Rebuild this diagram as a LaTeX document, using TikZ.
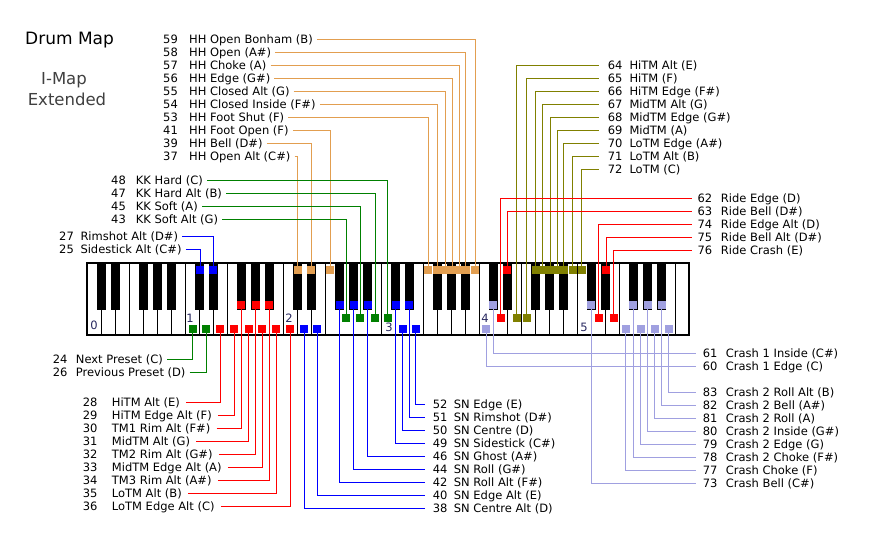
\documentclass[tikz,border=0pt]{standalone}
\usepackage{fontspec}
\setmainfont{DejaVu Sans}
\definecolor{hhcol}{RGB}{226,158,80}
\definecolor{tomcol}{RGB}{128,128,0}
\definecolor{ridecol}{RGB}{255,0,0}
\definecolor{sncol}{RGB}{0,0,255}
\definecolor{kkcol}{RGB}{0,128,0}
\definecolor{crashcol}{RGB}{160,160,224}
\definecolor{octcol}{RGB}{40,40,96}
\definecolor{subcol}{RGB}{64,64,64}
\newcommand{\lblfont}{\fontsize{11.5}{13}\selectfont}
\tikzset{
  mk/.style={minimum size=8pt, inner sep=0pt, outer sep=0pt},
  lbl/.style={anchor=west, inner sep=0pt, text height=8pt, text depth=0pt, font=\lblfont},
  octno/.style={inner sep=0pt, font=\lblfont, text=octcol},
  wire/.style={line width=1pt}
}
\begin{document}
\begin{tikzpicture}[x=1pt,y=-1pt]
\useasboundingbox (0,0) rectangle (892,538);
\fill[white] (0,0) rectangle (892,538);
% title
\node[anchor=base west, inner sep=0pt, font=\fontsize{17}{20}\selectfont] (title) at (25,44.3) {Drum Map};
\node[anchor=base, inner sep=0pt, font=\fontsize{16.5}{20}\selectfont, text=subcol] (imap) at (64,84.3) {I-Map};
\node[anchor=base, inner sep=0pt, font=\fontsize{16.5}{20}\selectfont, text=subcol] (ext) at (67,105.7) {Extended};
% keyboard
\foreach \i in {0,...,42}
  \draw[line width=1pt] (87+14*\i,263) rectangle ++(14,72);
\foreach \o in {0,...,5}
  \foreach \b in {9.5,23.5,51.5,65.5,79.5}
    \fill (87+98*\o+\b,263) rectangle ++(9.5,47);
\draw[line width=1.5pt] (87,263) rectangle (689,335);
\foreach \o/\x/\y in {0/94/325,1/190/318,2/289/318,3/389/327,4/485/318,5/584/327}
  \node[octno] (oct\o) at (\x,\y) {\o};
% hi-hat
\foreach \n/\txt/\y/\x in {59/HH Open Bonham (B)/39/475, 58/HH Open (A\#)/52/465.7,
    57/HH Choke (A)/65/459, 56/HH Edge (G\#)/78/452.3, 55/HH Closed Alt (G)/91/445,
    54/HH Closed Inside (F\#)/104/437.3, 53/HH Foot Shut (F)/117/428.3,
    41/HH Foot Open (F)/130/330.3, 39/HH Bell (D\#)/143/311.3, 37/HH Open Alt (C\#)/156/297.5}{
  \node[mk, fill=hhcol] (k\n) at (\x,270) {};
  \node[lbl] (n\n) at (163,\y) {\n};
  \node[lbl] (t\n) at (189,\y) {\txt};
  \draw[wire, hhcol, shorten <=4pt] (t\n.east) -| (k\n.north);
}
% toms
\foreach \n/\txt/\y/\x/\lv in {64/HiTM Alt (E)/65/516.7/317.5, 65/HiTM (F)/78/526.7/317.5,
    66/HiTM Edge (F\#)/91/535.7/270, 67/MidTM Alt (G)/104/542.7/270,
    68/MidTM Edge (G\#)/117/550/270, 69/MidTM (A)/130/557.3/270,
    70/LoTM Edge (A\#)/143/563.7/270, 71/LoTM Alt (B)/156/572.7/270, 72/LoTM (C)/169/581.7/270}{
  \node[mk, fill=tomcol] (k\n) at (\x,\lv) {};
  \node[lbl] (n\n) at (607.7,\y) {\n};
  \node[lbl] (t\n) at (629.3,\y) {\txt};
  \draw[wire, tomcol, shorten >=9pt] (k\n.north) |- (n\n.west);
}
% ride
\foreach \n/\txt/\y/\x/\lv in {62/Ride Edge (D)/198/500.7/317.5, 63/Ride Bell (D\#)/211/507.3/270,
    74/Ride Edge Alt (D)/224/598.7/317.5, 75/Ride Bell Alt (D\#)/237/606/270,
    76/Ride Crash (E)/250/613.5/317.5}{
  \node[mk, fill=ridecol] (k\n) at (\x,\lv) {};
  \node[lbl] (n\n) at (697.3,\y) {\n};
  \node[lbl] (t\n) at (720.7,\y) {\txt};
  \draw[wire, ridecol, shorten >=5pt] (k\n.north) |- (n\n.west);
}
% kick
\foreach \n/\txt/\y/\x in {48/KK Hard (C)/180/387.7, 47/KK Hard Alt (B)/193/375,
    45/KK Soft (A)/206/360.3, 43/KK Soft Alt (G)/219/346}{
  \node[mk, fill=kkcol] (k\n) at (\x,317.5) {};
  \node[lbl] (n\n) at (111,\y) {\n};
  \node[lbl] (t\n) at (135.7,\y) {\txt};
  \draw[wire, kkcol, shorten <=4pt] (t\n.east) -| (k\n.north);
}
% rimshot alt
\foreach \n/\txt/\y/\x in {27/Rimshot Alt (D\#)/236/213, 25/Sidestick Alt (C\#)/249/200}{
  \node[mk, fill=sncol] (k\n) at (\x,270) {};
  \node[lbl] (n\n) at (59,\y) {\n};
  \node[lbl] (t\n) at (80.3,\y) {\txt};
  \draw[wire, sncol, shorten <=4pt] (t\n.east) -| (k\n.north);
}
% presets
\foreach \n/\txt/\y/\x in {24/Next Preset (C)/359/192.7, 26/Previous Preset (D)/372/206}{
  \node[mk, fill=kkcol] (k\n) at (\x,329) {};
  \node[lbl] (n\n) at (52.7,\y) {\n};
  \node[lbl] (t\n) at (75.7,\y) {\txt};
  \draw[wire, kkcol, shorten <=4pt] (t\n.east) -| (k\n.south);
}
% tom alts
\foreach \n/\txt/\y/\x/\lv in {28/HiTM Alt (E)/402/220.3/329, 29/HiTM Edge Alt (F)/415/234.3/329,
    30/TM1 Rim Alt (F\#)/428/241.3/305, 31/MidTM Alt (G)/441/248.7/329,
    32/TM2 Rim Alt (G\#)/454/255.7/305, 33/MidTM Edge Alt (A)/467/262.3/329,
    34/TM3 Rim Alt (A\#)/480/269.3/305, 35/LoTM Alt (B)/493/276.3/329,
    36/LoTM Edge Alt (C)/506/290.3/329}{
  \node[mk, fill=ridecol] (k\n) at (\x,\lv) {};
  \node[lbl] (n\n) at (82.7,\y) {\n};
  \node[lbl] (t\n) at (111.7,\y) {\txt};
  \draw[wire, ridecol, shorten <=6pt] (t\n.east) -| (k\n.south);
}
% snare
\foreach \n/\txt/\y/\x/\lv in {52/SN Edge (E)/404/415.7/329, 51/SN Rimshot (D\#)/417/409.3/305,
    50/SN Centre (D)/430/402.7/329, 49/SN Sidestick (C\#)/443/395.7/305,
    46/SN Ghost (A\#)/456/367.7/305, 44/SN Roll (G\#)/469/353.7/305,
    42/SN Roll Alt (F\#)/482/339.7/305, 40/SN Edge Alt (E)/495/317.3/329,
    38/SN Centre Alt (D)/508/304/329}{
  \node[mk, fill=sncol] (k\n) at (\x,\lv) {};
  \node[lbl] (n\n) at (432.7,\y) {\n};
  \node[lbl] (t\n) at (453.7,\y) {\txt};
  \draw[wire, sncol, shorten >=8pt] (k\n.south) |- (n\n.west);
}
% crashes
\foreach \n/\txt/\y/\x/\lv in {61/Crash 1 Inside (C\#)/353/493.3/305, 60/Crash 1 Edge (C)/366/486/329,
    83/Crash 2 Roll Alt (B)/392/668.7/329, 82/Crash 2 Bell (A\#)/405/661.7/305,
    81/Crash 2 Roll (A)/418/654.7/329, 80/Crash 2 Inside (G\#)/431/647.7/305,
    79/Crash 2 Edge (G)/444/640.7/329, 78/Crash 2 Choke (F\#)/457/633.3/305,
    77/Crash Choke (F)/470/625.7/329, 73/Crash Bell (C\#)/483/591.3/305}{
  \node[mk, fill=crashcol] (k\n) at (\x,\lv) {};
  \node[lbl] (n\n) at (702.7,\y) {\n};
  \node[lbl] (t\n) at (725.7,\y) {\txt};
  \draw[wire, crashcol, shorten >=7pt] (k\n.south) |- (n\n.west);
}
\end{tikzpicture}
\end{document}
